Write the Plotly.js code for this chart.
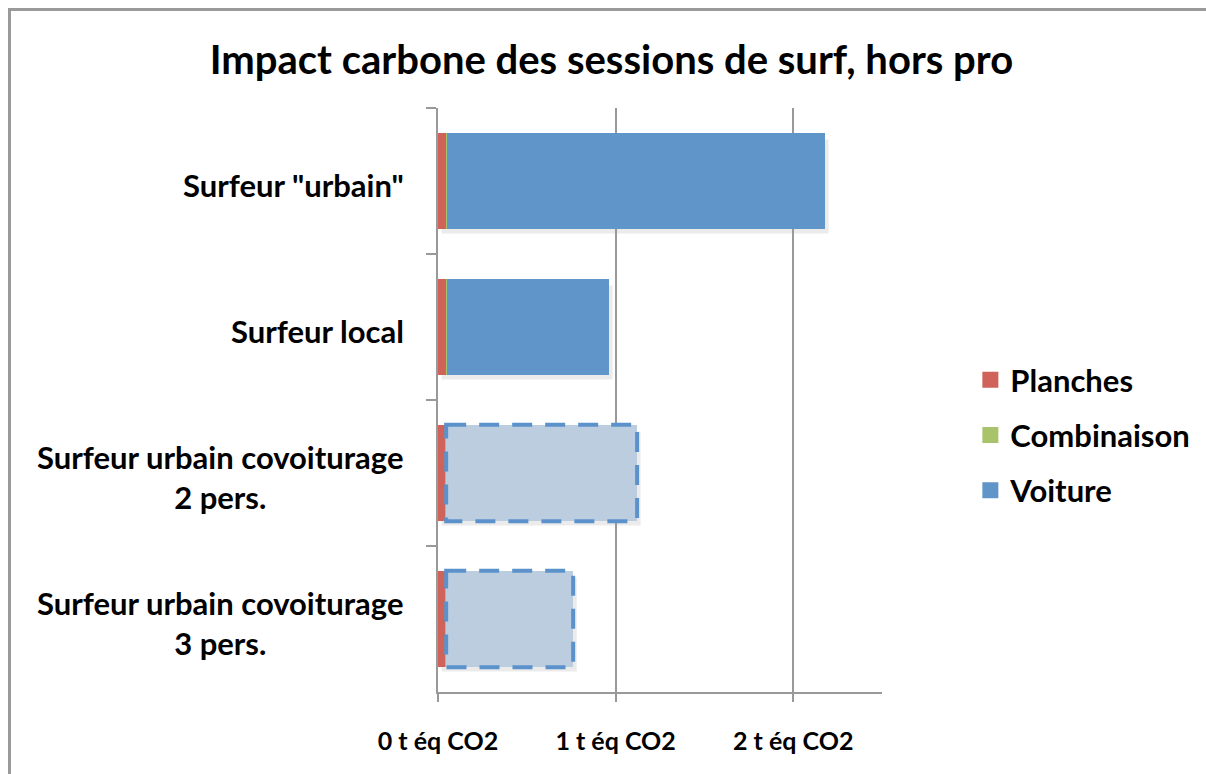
<!DOCTYPE html>
<html>
<head>
<meta charset="utf-8">
<script src="https://cdn.plot.ly/plotly-3.0.1.min.js"></script>
<style>
html,body{margin:0;padding:0;background:#fff;}
#wrap{position:relative;width:1206px;height:774px;overflow:hidden;}
#chart{width:1206px;height:774px;}
#frame{position:absolute;left:8px;top:8px;width:1400px;height:1000px;border:3px solid #9a9a9a;pointer-events:none;box-sizing:border-box;}
</style>
</head>
<body>
<div id="wrap"><div id="chart"></div><div id="frame"></div></div>
<script>
// ---- data ----
const categories = ['Surfeur "urbain"', 'Surfeur local', 'Surfeur urbain covoiturage<br>2 pers.', 'Surfeur urbain covoiturage<br>3 pers.'];
const planches    = [0.045, 0.045, 0.040, 0.040];
const combinaison = [0.004, 0.004, 0.006, 0.006];
const voiture     = [2.130, 0.914, 1.075, 0.715];
const covoiturage = [false, false, true, true];
const xTickVals   = [0, 1, 2];
const xTickText   = ['0 t éq CO2', '1 t éq CO2', '2 t éq CO2'];
const seriesNames = ['Planches', 'Combinaison', 'Voiture'];
const title = 'Impact carbone des sessions de surf, hors pro';

// ---- style ----
const colors = {Planches: '#cf6259', Combinaison: '#a8c46b', Voiture: '#5f95c9', covFill: '#bccddf', covLine: '#5b92cc'};
const FONT = 'Lato, "Open Sans", sans-serif';
const barWidth = 0.66;

const traces = [
  {type: 'bar', orientation: 'h', name: 'Planches', y: categories, x: planches, width: barWidth,
   marker: {color: colors.Planches, line: {width: 0}}, showlegend: false, hoverinfo: 'x+name'},
  {type: 'bar', orientation: 'h', name: 'Combinaison', y: categories, x: combinaison, width: barWidth,
   marker: {color: colors.Combinaison, line: {width: 0}}, showlegend: false, hoverinfo: 'x+name'},
  {type: 'bar', orientation: 'h', name: 'Voiture', y: categories, x: voiture, width: barWidth,
   marker: {color: covoiturage.map(c => c ? colors.covFill : colors.Voiture), line: {width: 0}},
   showlegend: false, hoverinfo: 'x+name'}
];
// legend entries
seriesNames.forEach(n => traces.push({
  type: 'scatter', mode: 'markers', x: [null], y: [null], name: n, legendgroup: n,
  marker: {symbol: 'square', size: 16, color: colors[n]}, showlegend: true, hoverinfo: 'skip'
}));

// dashed outlines + shadows for the carpool bars, derived from data
const shapes = [];
categories.forEach((c, i) => {
  const start = planches[i] + combinaison[i];
  const end = start + voiture[i];
  shapes.push({type: 'rect', xref: 'x', yref: 'y', layer: 'below',
    x0: 0.02, x1: end + 0.02, y0: i - barWidth / 2 + 0.045, y1: i + barWidth / 2 + 0.03,
    fillcolor: 'rgba(0,0,0,0.08)', line: {width: 0}});
  if (covoiturage[i]) {
    shapes.push({type: 'rect', xref: 'x', yref: 'y', layer: 'above',
      x0: start, x1: end, y0: i - barWidth / 2, y1: i + barWidth / 2,
      fillcolor: 'rgba(0,0,0,0)', line: {color: colors.covLine, width: 4, dash: '20px,13px'}});
  }
});

// category labels (centered multi-line)
const annotations = categories.map(c => ({
  xref: 'paper', yref: 'y', x: 0, y: c, xshift: -32, yshift: -4, xanchor: 'right', yanchor: 'middle',
  text: c, align: 'center', showarrow: false,
  font: {family: FONT, size: 31, color: '#000', weight: 'bold'}
}));

const layout = {
  width: 1206, height: 774,
  margin: {l: 438, r: 324, t: 108, b: 82, autoexpand: false},
  paper_bgcolor: '#fff', plot_bgcolor: '#fff',
  barmode: 'stack',
  title: {text: '<b>' + title + '</b>', xref: 'container', yref: 'container', x: 0.507, y: 0.922,
          xanchor: 'center', yanchor: 'middle', font: {family: FONT, size: 40, color: '#000'}},
  xaxis: {range: [0, 2.5], tickvals: xTickVals, ticktext: xTickText, ticks: 'outside', ticklen: 8,
          tickcolor: '#999', tickwidth: 2, showgrid: true, gridcolor: '#999', gridwidth: 2,
          showline: true, linecolor: '#999', linewidth: 2, zeroline: false, fixedrange: true,
          ticklabelstandoff: 18,
          tickfont: {family: FONT, size: 25, color: '#000', weight: 'bold'}},
  yaxis: {type: 'category', categoryorder: 'array', categoryarray: categories, autorange: 'reversed',
          range: [categories.length - 0.5, -0.5],
          showticklabels: false, ticks: 'outside', tickson: 'boundaries', ticklen: 10, tickcolor: '#999',
          tickwidth: 2, showline: true, linecolor: '#999', linewidth: 2, showgrid: false, zeroline: false,
          fixedrange: true},
  legend: {x: 1.199, y: 0.44, xanchor: 'left', yanchor: 'middle', traceorder: 'grouped', tracegroupgap: 12,
           font: {family: FONT, size: 31, color: '#000', weight: 'bold'}, itemwidth: 30, bgcolor: 'rgba(0,0,0,0)'},
  shapes: shapes,
  annotations: annotations,
  showlegend: true
};

Plotly.newPlot('chart', traces, layout, {displayModeBar: false, staticPlot: true});
</script>
</body>
</html>
